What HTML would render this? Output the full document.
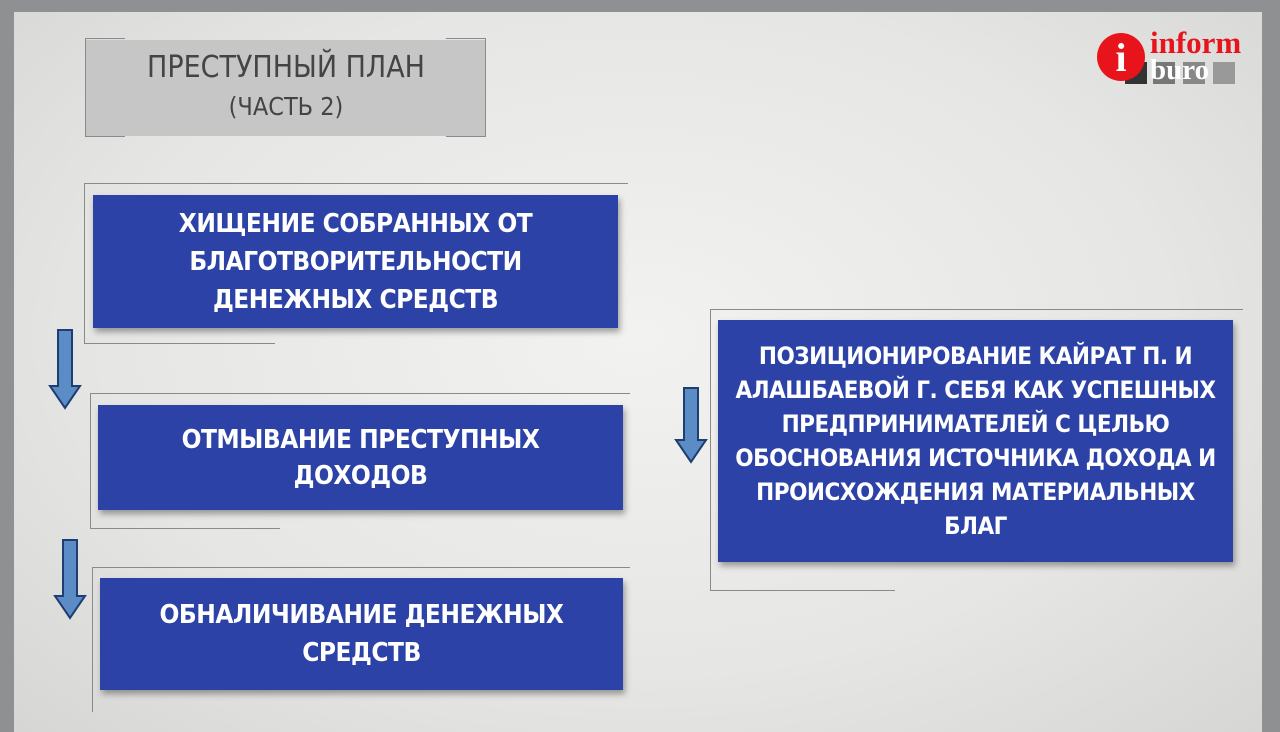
<!DOCTYPE html>
<html><head><meta charset="utf-8"><style>
body{margin:0;width:1280px;height:712px;overflow:hidden;background:#8e9092;position:relative;font-family:"Liberation Sans","DejaVu Sans",sans-serif}
.slide{position:absolute;left:14px;top:12px;width:1248px;height:720px;background:radial-gradient(ellipse at 50% 45%,#f2f2f0 0%,#e6e6e4 60%,#d6d6d4 100%)}
.b{position:absolute;background:#2c42a6;color:#fff;font-weight:bold;text-align:center;display:flex;align-items:center;justify-content:center;box-shadow:2px 4px 6px rgba(0,0,0,.35);font-family:"DejaVu Sans Condensed","Liberation Sans Narrow","Liberation Sans",sans-serif;letter-spacing:-0.5px}
.l{position:absolute;background:#8a8a8a}
.ar{position:absolute}
</style></head><body>
<div class="slide"></div>
<div style="position:absolute;left:86px;top:40px;width:400px;height:96px;background:#c6c6c6;color:#444;text-align:center;font-size:30px;line-height:38px;padding-top:9px;box-sizing:border-box;font-family:'DejaVu Sans Condensed','Liberation Sans',sans-serif">ПРЕСТУПНЫЙ ПЛАН<br><span style="font-size:25px">(ЧАСТЬ 2)</span></div>
<div class="l" style="left:85px;top:38px;width:1px;height:98px"></div>
<div class="l" style="left:485px;top:38px;width:1px;height:98px"></div>
<div class="l" style="left:85px;top:38px;width:40px;height:1px"></div>
<div class="l" style="left:85px;top:136px;width:40px;height:1px"></div>
<div class="l" style="left:446px;top:38px;width:40px;height:1px"></div>
<div class="l" style="left:446px;top:136px;width:40px;height:1px"></div>

<div class="l" style="left:84px;top:183px;width:544px;height:1px"></div>
<div class="l" style="left:84px;top:183px;width:1px;height:160px"></div>
<div class="l" style="left:84px;top:343px;width:191px;height:1px"></div>
<div class="b" style="left:93px;top:195px;width:525px;height:133px;font-size:26px;line-height:38px">ХИЩЕНИЕ СОБРАННЫХ ОТ<br>БЛАГОТВОРИТЕЛЬНОСТИ<br>ДЕНЕЖНЫХ СРЕДСТВ</div>

<div class="l" style="left:90px;top:393px;width:540px;height:1px"></div>
<div class="l" style="left:90px;top:393px;width:1px;height:135px"></div>
<div class="l" style="left:90px;top:528px;width:190px;height:1px"></div>
<div class="b" style="left:98px;top:405px;width:525px;height:105px;font-size:26px;line-height:36px">ОТМЫВАНИЕ ПРЕСТУПНЫХ<br>ДОХОДОВ</div>

<div class="l" style="left:92px;top:567px;width:538px;height:1px"></div>
<div class="l" style="left:92px;top:567px;width:1px;height:145px"></div>
<div class="b" style="left:100px;top:578px;width:523px;height:112px;font-size:26px;line-height:38px">ОБНАЛИЧИВАНИЕ ДЕНЕЖНЫХ<br>СРЕДСТВ</div>

<div class="l" style="left:710px;top:309px;width:533px;height:1px"></div>
<div class="l" style="left:710px;top:309px;width:1px;height:281px"></div>
<div class="l" style="left:710px;top:590px;width:185px;height:1px"></div>
<div class="b" style="left:718px;top:320px;width:515px;height:242px;font-size:24px;line-height:34px">ПОЗИЦИОНИРОВАНИЕ КАЙРАТ П. И<br>АЛАШБАЕВОЙ Г. СЕБЯ КАК УСПЕШНЫХ<br>ПРЕДПРИНИМАТЕЛЕЙ С ЦЕЛЬЮ<br>ОБОСНОВАНИЯ ИСТОЧНИКА ДОХОДА И<br>ПРОИСХОЖДЕНИЯ МАТЕРИАЛЬНЫХ<br>БЛАГ</div>

<svg class="ar" style="left:48px;top:328px" width="34" height="84"><polygon points="10,2 24,2 24,58 32,58 17,80 2,58 10,58" fill="#5b8cc6" stroke="#1e3d70" stroke-width="2"/></svg>
<svg class="ar" style="left:53px;top:538px" width="34" height="84"><polygon points="10,2 24,2 24,58 32,58 17,80 2,58 10,58" fill="#5b8cc6" stroke="#1e3d70" stroke-width="2"/></svg>
<svg class="ar" style="left:674px;top:386px" width="34" height="80"><polygon points="10,2 24,2 24,54 32,54 17,76 2,54 10,54" fill="#5b8cc6" stroke="#1e3d70" stroke-width="2"/></svg>

<div style="position:absolute;left:1125px;top:62px;width:22px;height:22px;background:#333"></div>
<div style="position:absolute;left:1153px;top:62px;width:22px;height:22px;background:#777"></div>
<div style="position:absolute;left:1183px;top:62px;width:22px;height:22px;background:#888"></div>
<div style="position:absolute;left:1213px;top:62px;width:22px;height:22px;background:#999"></div>
<div style="position:absolute;left:1097px;top:33px;width:48px;height:48px;border-radius:50%;background:#e8141b;color:#fff;font:bold 40px 'Liberation Serif',serif;text-align:center;line-height:50px">i</div>
<div style="position:absolute;left:1150px;top:26px;color:#e8141b;font:bold 31px 'Liberation Serif',serif;line-height:34px">inform</div>
<div style="position:absolute;left:1150px;top:55px;color:#fff;font:bold 29px 'Liberation Serif',serif;line-height:30px">buro</div>
</body></html>
